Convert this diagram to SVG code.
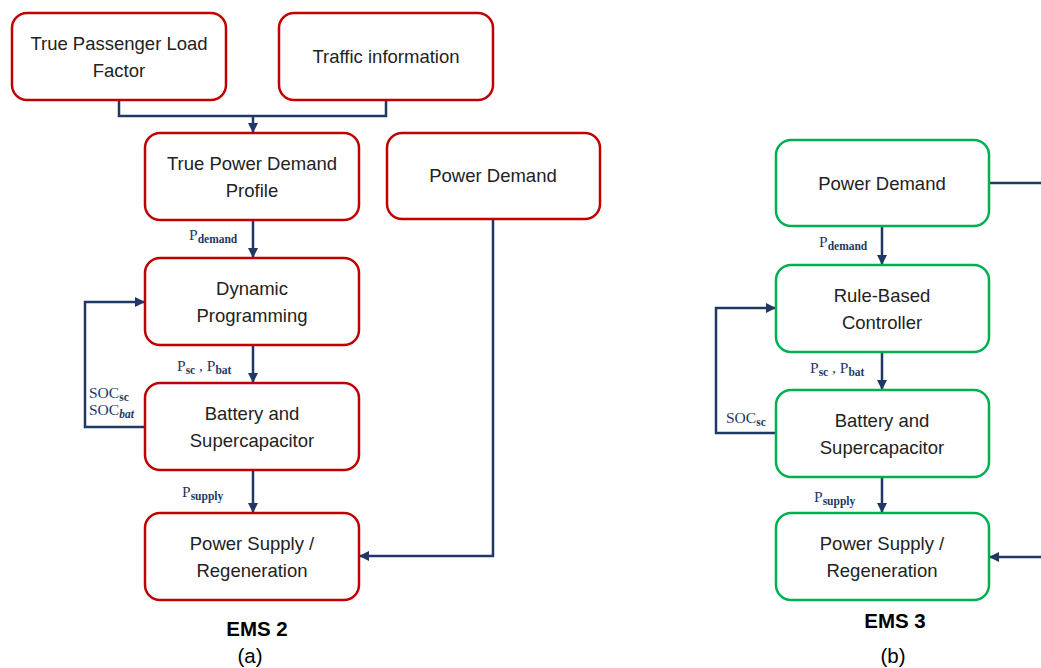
<svg xmlns="http://www.w3.org/2000/svg" width="1041" height="668" viewBox="0 0 1041 668">
<style>
.red{fill:#fff;stroke:#c00000;stroke-width:2.5}
.grn{fill:#fff;stroke:#00b050;stroke-width:2.5}
.t{font-family:"Liberation Sans",Arial,sans-serif;font-size:18.5px;fill:#222;text-anchor:middle}
.c{fill:none;stroke:#1f3864;stroke-width:2.5}
.m{font-family:"Liberation Serif","DejaVu Serif",serif;font-size:15.5px;fill:#1f3864}
.s{font-size:11.5px;font-weight:bold}
.cap{font-family:"Liberation Sans",Arial,sans-serif;font-size:20.5px;fill:#000;text-anchor:middle}
</style>
<defs>
<marker id="ah" viewBox="0 0 10 10" refX="9" refY="5" markerWidth="4" markerHeight="4" orient="auto" markerUnits="strokeWidth">
<path d="M0,0 L10,5 L0,10 z" fill="#1f3864"/>
</marker>
</defs>
<rect width="1041" height="668" fill="#fff"/>
<g id="connectors">
<path class="c" d="M119,100 V116 H386 V100"/>
<path class="c" d="M253,116 V132" marker-end="url(#ah)"/>
<path class="c" d="M253,220 V257" marker-end="url(#ah)"/>
<path class="c" d="M253,345 V382" marker-end="url(#ah)"/>
<path class="c" d="M145,427 H85 V302 H144" marker-end="url(#ah)"/>
<path class="c" d="M253,470 V512" marker-end="url(#ah)"/>
<path class="c" d="M493,219 V556 H360" marker-end="url(#ah)"/>
<path class="c" d="M882,226 V264" marker-end="url(#ah)"/>
<path class="c" d="M882,352 V389" marker-end="url(#ah)"/>
<path class="c" d="M776,433 H716 V308 H775" marker-end="url(#ah)"/>
<path class="c" d="M882,477 V512" marker-end="url(#ah)"/>
<path class="c" d="M989,183 H1041"/>
<path class="c" d="M1041,557 H990" marker-end="url(#ah)"/>
<text class="m" x="189" y="240">P<tspan class="s" dy="3">demand</tspan></text>
<text class="m" x="177" y="371">P<tspan class="s" dy="3">sc</tspan><tspan dy="-3"> , P</tspan><tspan class="s" dy="3">bat</tspan></text>
<text class="m" x="89" y="398">SOC<tspan class="s" dy="3">sc</tspan></text>
<text class="m" x="89" y="415">SOC<tspan class="s" dy="3" font-style="italic">bat</tspan></text>
<text class="m" x="182" y="497">P<tspan class="s" dy="3">supply</tspan></text>
<text class="m" x="819" y="247">P<tspan class="s" dy="3">demand</tspan></text>
<text class="m" x="810" y="373">P<tspan class="s" dy="3">sc</tspan><tspan dy="-3"> , P</tspan><tspan class="s" dy="3">bat</tspan></text>
<text class="m" x="726" y="423">SOC<tspan class="s" dy="3">sc</tspan></text>
<text class="m" x="814" y="502">P<tspan class="s" dy="3">supply</tspan></text>
</g>
<g id="n1"><rect class="red" x="12" y="13" width="214" height="87" rx="15"/><text class="t" x="119" y="50">True Passenger Load</text><text class="t" x="119" y="77">Factor</text></g>
<g id="n2"><rect class="red" x="279" y="13" width="214" height="87" rx="15"/><text class="t" x="386" y="63">Traffic information</text></g>
<g id="n3"><rect class="red" x="145" y="133" width="214" height="87" rx="15"/><text class="t" x="252" y="170">True Power Demand</text><text class="t" x="252" y="197">Profile</text></g>
<g id="n4"><rect class="red" x="387" y="133" width="213" height="86" rx="15"/><text class="t" x="493" y="182">Power Demand</text></g>
<g id="n5"><rect class="red" x="145" y="258" width="214" height="87" rx="15"/><text class="t" x="252" y="295">Dynamic</text><text class="t" x="252" y="322">Programming</text></g>
<g id="n6"><rect class="red" x="145" y="383" width="214" height="87" rx="15"/><text class="t" x="252" y="420">Battery and</text><text class="t" x="252" y="447">Supercapacitor</text></g>
<g id="n7"><rect class="red" x="145" y="513" width="214" height="87" rx="15"/><text class="t" x="252" y="550">Power Supply /</text><text class="t" x="252" y="577">Regeneration</text></g>
<g id="n8"><rect class="grn" x="776" y="140" width="213" height="86" rx="15"/><text class="t" x="882" y="190">Power Demand</text></g>
<g id="n9"><rect class="grn" x="776" y="265" width="213" height="87" rx="15"/><text class="t" x="882" y="302">Rule-Based</text><text class="t" x="882" y="329">Controller</text></g>
<g id="n10"><rect class="grn" x="776" y="390" width="213" height="87" rx="15"/><text class="t" x="882" y="427">Battery and</text><text class="t" x="882" y="454">Supercapacitor</text></g>
<g id="n11"><rect class="grn" x="776" y="513" width="213" height="87" rx="15"/><text class="t" x="882" y="550">Power Supply /</text><text class="t" x="882" y="577">Regeneration</text></g>
<text class="cap" x="257" y="636" font-weight="bold">EMS 2</text>
<text class="cap" x="250" y="663">(a)</text>
<text class="cap" x="895" y="628" font-weight="bold">EMS 3</text>
<text class="cap" x="893" y="663">(b)</text>
</svg>
